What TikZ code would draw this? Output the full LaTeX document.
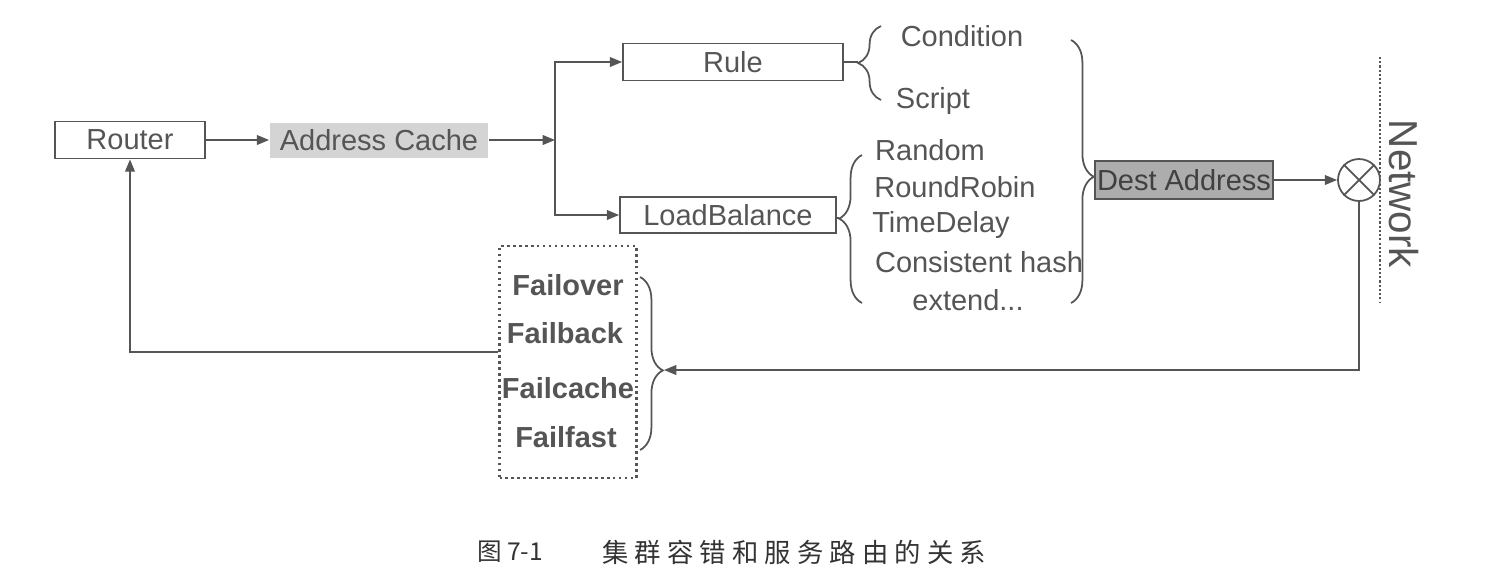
\documentclass[tikz,border=0pt]{standalone}
\usepackage{fontspec}
\setmainfont{Liberation Sans}
\newfontfamily\cjk{Noto Sans CJK SC}
\usetikzlibrary{arrows.meta,decorations.pathreplacing}

\definecolor{ink}{HTML}{555555}
\definecolor{cachefill}{HTML}{D4D4D4}
\definecolor{destfill}{HTML}{ADADAD}

\begin{document}
\begin{tikzpicture}[x=0.02cm, y=-0.02cm, color=ink, line width=1pt,
  >={Triangle[length=7pt,width=5.5pt]},
  every node/.style={font=\fontsize{16.5}{19}\selectfont},
  box/.style={draw, minimum height=0.74cm, inner sep=2pt},
  fail/.style={font=\fontsize{16.5}{19}\selectfont\bfseries},
  curly/.style={decorate, decoration={brace, amplitude=13pt, #1}},
  curly/.default={aspect=0.5}]
\useasboundingbox (0,0) rectangle (1494,586);

\node [box, minimum width=3cm] (router) at (130,140) {Router};
\node [fill=cachefill, minimum width=4.36cm, minimum height=0.7cm] (cache) at (379,140) {Address Cache};
\coordinate (fork) at (555,140);

\draw [->] (router) -- (cache);
\draw [->] (cache) -- (fork);

\node [box, minimum width=4.4cm] (rule) at (733,62) {Rule};
\node [box, minimum width=4.32cm, minimum height=0.72cm] (lb) at (728,215) {LoadBalance};

\draw [->] (fork) |- (rule);
\draw [->] (fork) |- (lb);

% rule
\coordinate (ruletip) at (858,62);
\draw (rule) -- (ruletip);
\draw [curly] (881,100) -- (881,26);
\node (cond) at (962,36) {Condition};
\node (script) at (933,101) {Script};

% load balance
\coordinate (lbtip) at (839,218);
\draw (lb) -- (lbtip);
\draw [curly={aspect=0.57}] (862,303) -- (862,155);
\node (random) at (930,150) {Random};
\node (rr) at (955,187) {RoundRobin};
\node (td) at (941,225) {TimeDelay};
\node (ch) at (979,262) {Consistent hash};
\node (ext) at (968,300) {extend...};

\draw [curly={aspect=0.52}] (1071,40) -- (1071,303);

\node [box, fill=destfill, text=black!75, minimum width=3.56cm, minimum height=0.76cm, inner sep=1pt] (dest) at (1184,180) {Dest Address};

\node [draw, circle, minimum size=0.84cm, inner sep=0pt] (xcirc) at (1359,180) {};
\draw (xcirc.north west) -- (xcirc.south east);
\draw (xcirc.north east) -- (xcirc.south west);
\draw [->] (dest) -- (xcirc);

\draw [dash pattern=on 1.2pt off 1.2pt, line width=1.5pt] (1380,57) -- (1380,303);
\node [rotate=-90, font=\fontsize{23}{26}\selectfont] (net) at (1404,194) {Network};

% fault tolerance
\node [draw, dotted, line width=1.4pt, minimum width=2.74cm, minimum height=4.64cm] (failbox) at (568,362) {};
\node [fail] (fo) at (568,285) {Failover};
\node [fail] (fb) at (565,333) {Failback};
\node [fail] (fc) at (568,388) {Failcache};
\node [fail] (ff) at (566,437) {Failfast};
\draw [curly={aspect=0.54}] (640,277) -- (640,450);
\coordinate (failtip) at (664,370);

\draw [->] (xcirc) |- (failtip);
\draw [->] ([yshift=0.2cm]failbox.west) -| (router);

\node [text=black!80] (fig) at (510,552) {\fontsize{14}{16}\selectfont\cjk 图 7-1};
\node [text=black!80] (cap) at (794,552) {\fontsize{15}{18}\selectfont\cjk 集\kern3.5pt群\kern3.5pt容\kern3.5pt错\kern3.5pt和\kern3.5pt服\kern3.5pt务\kern3.5pt路\kern3.5pt由\kern3.5pt的\kern3.5pt关\kern3.5pt系};

\end{tikzpicture}
\end{document}
